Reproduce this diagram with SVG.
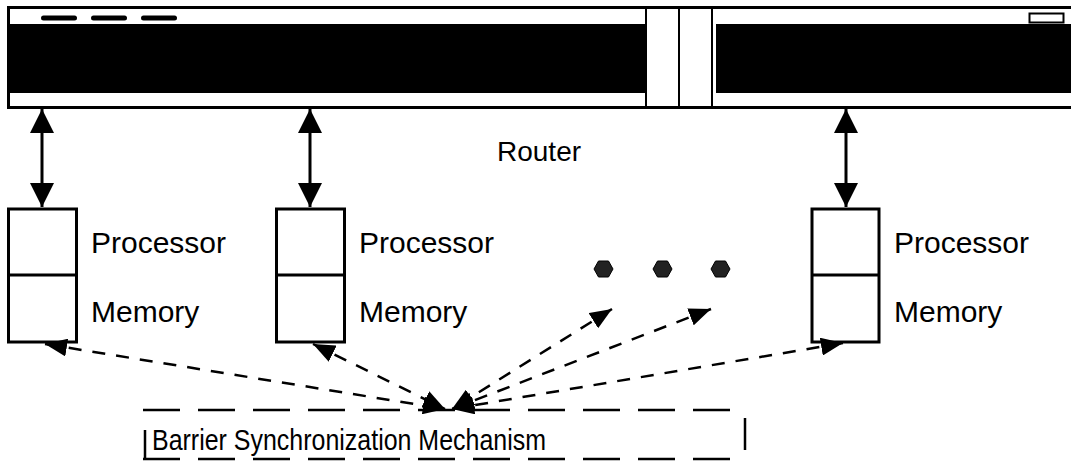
<svg xmlns="http://www.w3.org/2000/svg" width="1071" height="461" viewBox="0 0 1071 461">
<style>
text{font-family:"Liberation Sans",Arial,sans-serif;fill:#000}
.lbl{font-size:30px}
.box{fill:#fff;stroke:#000;stroke-width:3}
.vline{stroke:#000;stroke-width:3;fill:none}
.dline{stroke:#000;stroke-width:2.5;fill:none;stroke-dasharray:13 11}
.bline{stroke:#000;stroke-width:2.5;fill:none}
.hex{fill:#222;stroke:#000;stroke-width:1}
</style>
<defs>
<marker id="ah" viewBox="0 0 24 24" refX="24" refY="12" markerWidth="24" markerHeight="24" markerUnits="userSpaceOnUse" orient="auto-start-reverse">
<path d="M0,0 L24,12 L0,24 Z" fill="#000"/>
</marker>
<marker id="dh" viewBox="0 0 22 18" refX="22" refY="9" markerWidth="22" markerHeight="18" markerUnits="userSpaceOnUse" orient="auto-start-reverse">
<path d="M0,0 L22,9 L0,18 Z" fill="#000"/>
</marker>
</defs>
<g id="router">
<rect x="8.5" y="7.5" width="1070" height="100" fill="#fff" stroke="#000" stroke-width="3"/>
<rect x="10" y="24" width="636" height="69" fill="#000"/>
<rect x="716" y="24" width="360" height="69" fill="#000"/>
<line x1="646" y1="7" x2="646" y2="108" stroke="#000" stroke-width="2"/>
<line x1="679" y1="7" x2="679" y2="108" stroke="#000" stroke-width="2"/>
<line x1="712" y1="7" x2="712" y2="108" stroke="#000" stroke-width="2"/>
<rect x="41" y="15.5" width="36" height="5" rx="2.5" fill="#000"/>
<rect x="91" y="15.5" width="36" height="5" rx="2.5" fill="#000"/>
<rect x="141" y="15.5" width="36" height="5" rx="2.5" fill="#000"/>
<rect x="1029.5" y="13.5" width="34" height="9" fill="#fff" stroke="#000" stroke-width="2"/>
<text x="497" y="161" style="font-size:28px">Router</text>
</g>
<g id="node1">
<rect class="box" x="8.5" y="209" width="68" height="133"/>
<line x1="8.5" y1="275" x2="76.5" y2="275" stroke="#000" stroke-width="3"/>
<text class="lbl" x="91" y="253">Processor</text>
<text class="lbl" x="91" y="322">Memory</text>
</g>
<g id="node2">
<rect class="box" x="276.5" y="209" width="68" height="133"/>
<line x1="276.5" y1="275" x2="344.5" y2="275" stroke="#000" stroke-width="3"/>
<text class="lbl" x="359" y="253">Processor</text>
<text class="lbl" x="359" y="322">Memory</text>
</g>
<g id="node3">
<rect class="box" x="812" y="209" width="67" height="133"/>
<line x1="812" y1="275" x2="879" y2="275" stroke="#000" stroke-width="3"/>
<text class="lbl" x="894" y="253">Processor</text>
<text class="lbl" x="894" y="322">Memory</text>
</g>
<g id="ellipsis">
<polygon class="hex" points="594,269 598.5,261 608.5,261 613,269 608.5,277 598.5,277"/>
<polygon class="hex" points="653,269 657.5,261 667.5,261 672,269 667.5,277 657.5,277"/>
<polygon class="hex" points="711,269 715.5,261 725.5,261 730,269 725.5,277 715.5,277"/>
</g>
<g id="barrier">
<line class="bline" x1="143" y1="410" x2="745" y2="410" stroke-dasharray="37 18"/>
<line class="bline" x1="143" y1="459" x2="745" y2="459" stroke-dasharray="37 18"/>
<line class="bline" x1="145" y1="430" x2="145" y2="459"/>
<line class="bline" x1="745" y1="418" x2="745" y2="450"/>
<text x="152" y="450" style="font-size:29px" textLength="394" lengthAdjust="spacingAndGlyphs">Barrier Synchronization Mechanism</text>
</g>
<g id="connectors">
<line class="vline" x1="42" y1="109" x2="42" y2="207" marker-start="url(#ah)" marker-end="url(#ah)"/>
<line class="vline" x1="310" y1="109" x2="310" y2="207" marker-start="url(#ah)" marker-end="url(#ah)"/>
<line class="vline" x1="846" y1="109" x2="846" y2="207" marker-start="url(#ah)" marker-end="url(#ah)"/>
<line class="dline" x1="45" y1="344" x2="445" y2="409" marker-start="url(#dh)" marker-end="url(#dh)"/>
<line class="dline" x1="313" y1="344" x2="445" y2="409" marker-start="url(#dh)" marker-end="url(#dh)"/>
<line class="dline" x1="612" y1="309" x2="452" y2="409" marker-start="url(#dh)" marker-end="url(#dh)"/>
<line class="dline" x1="711" y1="309" x2="452" y2="409" marker-start="url(#dh)" marker-end="url(#dh)"/>
<line class="dline" x1="843" y1="343" x2="452" y2="409" marker-start="url(#dh)" marker-end="url(#dh)"/>
</g>
</svg>
